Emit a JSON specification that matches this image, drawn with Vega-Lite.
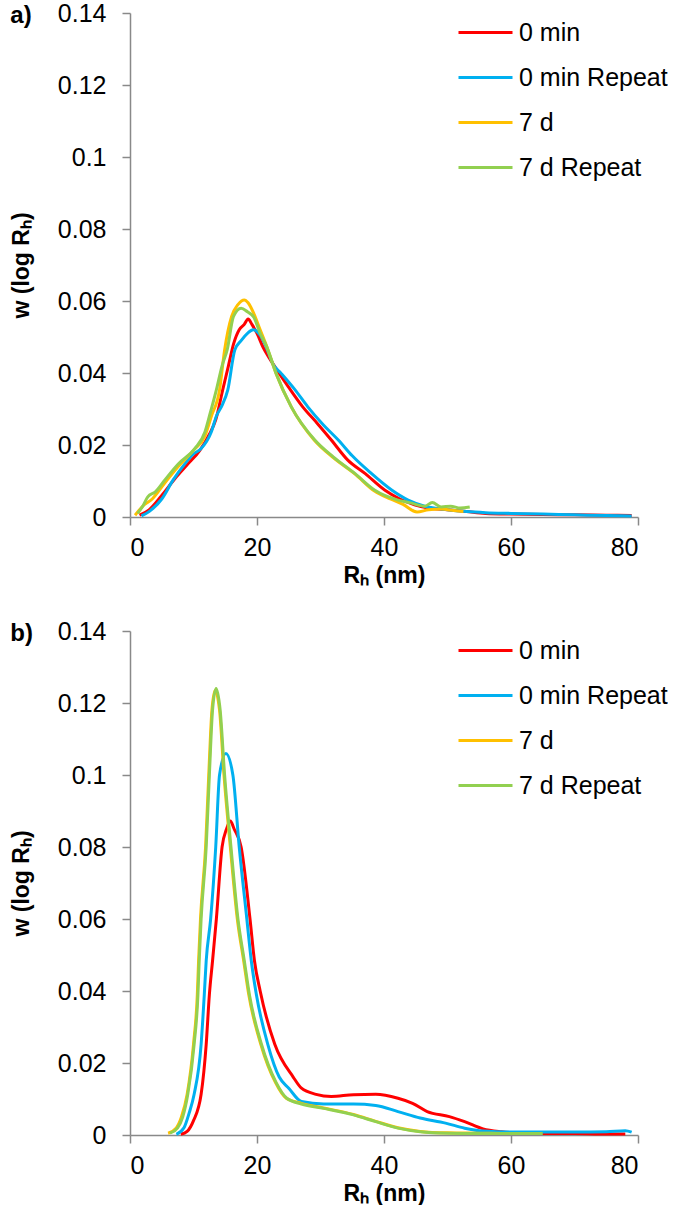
{
"$schema": "https://vega.github.io/schema/vega-lite/v6.json",
"background": "white",
"padding": {"left": 10, "top": 1, "right": 0, "bottom": 0},
"config": {
  "font": "Liberation Sans",
  "view": {"stroke": null},
  "axis": {"grid": false, "domainColor": "#898989", "tickColor": "#898989", "domainWidth": 1.5, "tickWidth": 1.5, "tickSize": 8, "labelFont": "Liberation Sans", "labelFontSize": 25, "labelColor": "#000000", "titleFont": "Liberation Sans", "titleFontSize": 23, "titleFontWeight": "bold", "titleColor": "#000000"},
  "axisX": {"labelPadding": 10, "titlePadding": 4},
  "axisY": {"labelPadding": 16, "titlePadding": 24},
  "legend": {"symbolType": "stroke", "symbolSize": 2916, "symbolStrokeWidth": 3, "labelFont": "Liberation Sans", "labelFontSize": 25, "labelColor": "#000000", "rowPadding": 3, "labelOffset": 5, "padding": 0, "labelLimit": 300},
  "title": {"font": "Liberation Sans", "fontSize": 24, "fontWeight": "bold", "color": "#000000", "anchor": "start", "frame": "bounds", "offset": -27}
},
"datasets": {
  "a": [
    {"series":"0 min","rh":1.5,"w":0.0005},{"series":"0 min","rh":3,"w":0.002},{"series":"0 min","rh":5,"w":0.006},{"series":"0 min","rh":7,"w":0.0105},{"series":"0 min","rh":9,"w":0.0145},{"series":"0 min","rh":11,"w":0.0185},{"series":"0 min","rh":12.5,"w":0.023},{"series":"0 min","rh":13.5,"w":0.027},{"series":"0 min","rh":14.6,"w":0.0353},{"series":"0 min","rh":15.5,"w":0.042},{"series":"0 min","rh":16.3,"w":0.048},{"series":"0 min","rh":17.2,"w":0.052},{"series":"0 min","rh":18.0,"w":0.0535},{"series":"0 min","rh":18.6,"w":0.055},{"series":"0 min","rh":19.2,"w":0.0535},{"series":"0 min","rh":20,"w":0.051},{"series":"0 min","rh":21,"w":0.047},{"series":"0 min","rh":22,"w":0.044},{"series":"0 min","rh":23.5,"w":0.0399},{"series":"0 min","rh":25,"w":0.036},{"series":"0 min","rh":27.2,"w":0.0306},{"series":"0 min","rh":29.5,"w":0.026},{"series":"0 min","rh":31.7,"w":0.0214},{"series":"0 min","rh":34.3,"w":0.0158},{"series":"0 min","rh":37,"w":0.0121},{"series":"0 min","rh":40.1,"w":0.0075},{"series":"0 min","rh":42.5,"w":0.005},{"series":"0 min","rh":44.8,"w":0.0034},{"series":"0 min","rh":47,"w":0.0025},{"series":"0 min","rh":50,"w":0.002},{"series":"0 min","rh":53,"w":0.0015},{"series":"0 min","rh":56,"w":0.001},{"series":"0 min","rh":60,"w":0.0008},{"series":"0 min","rh":65,"w":0.0007},{"series":"0 min","rh":70,"w":0.0006},{"series":"0 min","rh":75,"w":0.0005},{"series":"0 min","rh":79,"w":0.0004},
    {"series":"0 min Repeat","rh":1.8,"w":0.0003},{"series":"0 min Repeat","rh":3,"w":0.0015},{"series":"0 min Repeat","rh":5,"w":0.005},{"series":"0 min Repeat","rh":6.8,"w":0.0103},{"series":"0 min Repeat","rh":8.6,"w":0.0147},{"series":"0 min Repeat","rh":10,"w":0.0175},{"series":"0 min Repeat","rh":11.2,"w":0.019},{"series":"0 min Repeat","rh":12.8,"w":0.0236},{"series":"0 min Repeat","rh":13.6,"w":0.028},{"series":"0 min Repeat","rh":14.5,"w":0.031},{"series":"0 min Repeat","rh":15.4,"w":0.0353},{"series":"0 min Repeat","rh":16.5,"w":0.0464},{"series":"0 min Repeat","rh":17.5,"w":0.049},{"series":"0 min Repeat","rh":18.5,"w":0.051},{"series":"0 min Repeat","rh":19.4,"w":0.052},{"series":"0 min Repeat","rh":20.5,"w":0.0505},{"series":"0 min Repeat","rh":21.5,"w":0.047},{"series":"0 min Repeat","rh":22.5,"w":0.0425},{"series":"0 min Repeat","rh":23.8,"w":0.0399},{"series":"0 min Repeat","rh":26,"w":0.0353},{"series":"0 min Repeat","rh":28,"w":0.0306},{"series":"0 min Repeat","rh":30.5,"w":0.0255},{"series":"0 min Repeat","rh":32.8,"w":0.0214},{"series":"0 min Repeat","rh":35,"w":0.017},{"series":"0 min Repeat","rh":38,"w":0.0121},{"series":"0 min Repeat","rh":41.2,"w":0.0075},{"series":"0 min Repeat","rh":43.8,"w":0.0047},{"series":"0 min Repeat","rh":46.4,"w":0.003},{"series":"0 min Repeat","rh":50,"w":0.002},{"series":"0 min Repeat","rh":53,"w":0.0015},{"series":"0 min Repeat","rh":56,"w":0.0012},{"series":"0 min Repeat","rh":60,"w":0.001},{"series":"0 min Repeat","rh":65,"w":0.0008},{"series":"0 min Repeat","rh":70,"w":0.0006},{"series":"0 min Repeat","rh":75,"w":0.0004},{"series":"0 min Repeat","rh":79,"w":0.0003},
    {"series":"7 d","rh":0.8,"w":0.0005},{"series":"7 d","rh":2,"w":0.003},{"series":"7 d","rh":3.5,"w":0.005},{"series":"7 d","rh":5.5,"w":0.0095},{"series":"7 d","rh":7.6,"w":0.014},{"series":"7 d","rh":10,"w":0.0185},{"series":"7 d","rh":11.8,"w":0.0225},{"series":"7 d","rh":12.8,"w":0.0279},{"series":"7 d","rh":14.1,"w":0.0353},{"series":"7 d","rh":14.9,"w":0.0464},{"series":"7 d","rh":16.0,"w":0.0557},{"series":"7 d","rh":17,"w":0.059},{"series":"7 d","rh":18.0,"w":0.0603},{"series":"7 d","rh":18.6,"w":0.0595},{"series":"7 d","rh":19.5,"w":0.0565},{"series":"7 d","rh":20.5,"w":0.052},{"series":"7 d","rh":21.5,"w":0.0475},{"series":"7 d","rh":23,"w":0.0399},{"series":"7 d","rh":25.4,"w":0.0306},{"series":"7 d","rh":29,"w":0.0214},{"series":"7 d","rh":32,"w":0.0165},{"series":"7 d","rh":35.4,"w":0.012},{"series":"7 d","rh":38.5,"w":0.0072},{"series":"7 d","rh":41,"w":0.005},{"series":"7 d","rh":43,"w":0.0035},{"series":"7 d","rh":45.2,"w":0.0014},{"series":"7 d","rh":47,"w":0.002},{"series":"7 d","rh":49,"w":0.0022},{"series":"7 d","rh":51,"w":0.0018},{"series":"7 d","rh":52.5,"w":0.0015},
    {"series":"7 d Repeat","rh":1.2,"w":0.001},{"series":"7 d Repeat","rh":2,"w":0.003},{"series":"7 d Repeat","rh":2.8,"w":0.0056},{"series":"7 d Repeat","rh":4,"w":0.007},{"series":"7 d Repeat","rh":5.5,"w":0.0103},{"series":"7 d Repeat","rh":7.6,"w":0.0147},{"series":"7 d Repeat","rh":10.2,"w":0.019},{"series":"7 d Repeat","rh":11.8,"w":0.0236},{"series":"7 d Repeat","rh":12.5,"w":0.028},{"series":"7 d Repeat","rh":13.6,"w":0.0353},{"series":"7 d Repeat","rh":14.5,"w":0.042},{"series":"7 d Repeat","rh":15.3,"w":0.0464},{"series":"7 d Repeat","rh":16.3,"w":0.0557},{"series":"7 d Repeat","rh":17.5,"w":0.058},{"series":"7 d Repeat","rh":18.5,"w":0.057},{"series":"7 d Repeat","rh":19.5,"w":0.0555},{"series":"7 d Repeat","rh":20.5,"w":0.051},{"series":"7 d Repeat","rh":21.5,"w":0.0475},{"series":"7 d Repeat","rh":23,"w":0.0399},{"series":"7 d Repeat","rh":25.4,"w":0.0306},{"series":"7 d Repeat","rh":29.1,"w":0.0214},{"series":"7 d Repeat","rh":32,"w":0.0167},{"series":"7 d Repeat","rh":35.4,"w":0.0121},{"series":"7 d Repeat","rh":38.5,"w":0.0075},{"series":"7 d Repeat","rh":42.2,"w":0.0047},{"series":"7 d Repeat","rh":44,"w":0.004},{"series":"7 d Repeat","rh":46.4,"w":0.003},{"series":"7 d Repeat","rh":47.6,"w":0.004},{"series":"7 d Repeat","rh":49,"w":0.0028},{"series":"7 d Repeat","rh":50.5,"w":0.003},{"series":"7 d Repeat","rh":52,"w":0.0025},{"series":"7 d Repeat","rh":53.5,"w":0.0028}
  ],
  "b": [
    {"series":"0 min","rh":8.0,"w":0.0002},{"series":"0 min","rh":9,"w":0.001},{"series":"0 min","rh":10,"w":0.004},{"series":"0 min","rh":11.2,"w":0.0113},{"series":"0 min","rh":12.0,"w":0.0252},{"series":"0 min","rh":12.5,"w":0.039},{"series":"0 min","rh":13.0,"w":0.0484},{"series":"0 min","rh":13.6,"w":0.06},{"series":"0 min","rh":14.5,"w":0.08},{"series":"0 min","rh":15.2,"w":0.085},{"series":"0 min","rh":15.8,"w":0.0872},{"series":"0 min","rh":16.4,"w":0.085},{"series":"0 min","rh":17.5,"w":0.08},{"series":"0 min","rh":18.9,"w":0.06},{"series":"0 min","rh":19.6,"w":0.0484},{"series":"0 min","rh":20.5,"w":0.04},{"series":"0 min","rh":22.8,"w":0.0252},{"series":"0 min","rh":25.7,"w":0.0161},{"series":"0 min","rh":27,"w":0.013},{"series":"0 min","rh":29.3,"w":0.0113},{"series":"0 min","rh":31.7,"w":0.0107},{"series":"0 min","rh":35.2,"w":0.0112},{"series":"0 min","rh":38.7,"w":0.0113},{"series":"0 min","rh":42.2,"w":0.0102},{"series":"0 min","rh":44.5,"w":0.0088},{"series":"0 min","rh":46.8,"w":0.0065},{"series":"0 min","rh":50.3,"w":0.0051},{"series":"0 min","rh":52.7,"w":0.0037},{"series":"0 min","rh":55.6,"w":0.0017},{"series":"0 min","rh":58.5,"w":0.0009},{"series":"0 min","rh":62,"w":0.0005},{"series":"0 min","rh":66,"w":0.0004},{"series":"0 min","rh":70,"w":0.0004},{"series":"0 min","rh":74,"w":0.0003},{"series":"0 min","rh":78,"w":0.0003},
    {"series":"0 min Repeat","rh":7.3,"w":0.0002},{"series":"0 min Repeat","rh":8.5,"w":0.002},{"series":"0 min Repeat","rh":9.3,"w":0.006},{"series":"0 min Repeat","rh":10.1,"w":0.0113},{"series":"0 min Repeat","rh":11.2,"w":0.0252},{"series":"0 min Repeat","rh":11.7,"w":0.039},{"series":"0 min Repeat","rh":12.0,"w":0.0484},{"series":"0 min Repeat","rh":12.7,"w":0.06},{"series":"0 min Repeat","rh":13.5,"w":0.08},{"series":"0 min Repeat","rh":14.1,"w":0.1},{"series":"0 min Repeat","rh":15.1,"w":0.106},{"series":"0 min Repeat","rh":16.2,"w":0.1},{"series":"0 min Repeat","rh":17.2,"w":0.08},{"series":"0 min Repeat","rh":18.4,"w":0.06},{"series":"0 min Repeat","rh":19.1,"w":0.0484},{"series":"0 min Repeat","rh":19.9,"w":0.039},{"series":"0 min Repeat","rh":21.7,"w":0.0252},{"series":"0 min Repeat","rh":23.5,"w":0.0161},{"series":"0 min Repeat","rh":25,"w":0.013},{"series":"0 min Repeat","rh":27,"w":0.0093},{"series":"0 min Repeat","rh":30.5,"w":0.0086},{"series":"0 min Repeat","rh":35.2,"w":0.0086},{"series":"0 min Repeat","rh":38.7,"w":0.0082},{"series":"0 min Repeat","rh":42.2,"w":0.0065},{"series":"0 min Repeat","rh":45.7,"w":0.0047},{"series":"0 min Repeat","rh":49.7,"w":0.0033},{"series":"0 min Repeat","rh":52.7,"w":0.0019},{"series":"0 min Repeat","rh":55.6,"w":0.0011},{"series":"0 min Repeat","rh":60,"w":0.0008},{"series":"0 min Repeat","rh":65,"w":0.0008},{"series":"0 min Repeat","rh":70,"w":0.0008},{"series":"0 min Repeat","rh":75,"w":0.0009},{"series":"0 min Repeat","rh":78,"w":0.0012},{"series":"0 min Repeat","rh":79,"w":0.0008},
    {"series":"7 d","rh":6.0,"w":0.0005},{"series":"7 d","rh":7.3,"w":0.002},{"series":"7 d","rh":8.1,"w":0.005},{"series":"7 d","rh":9.0,"w":0.0113},{"series":"7 d","rh":10.0,"w":0.0252},{"series":"7 d","rh":10.6,"w":0.039},{"series":"7 d","rh":10.8,"w":0.0484},{"series":"7 d","rh":11.1,"w":0.06},{"series":"7 d","rh":11.9,"w":0.08},{"series":"7 d","rh":12.4,"w":0.1},{"series":"7 d","rh":12.9,"w":0.118},{"series":"7 d","rh":13.4,"w":0.1235},{"series":"7 d","rh":14.1,"w":0.118},{"series":"7 d","rh":14.8,"w":0.1},{"series":"7 d","rh":15.8,"w":0.08},{"series":"7 d","rh":16.9,"w":0.06},{"series":"7 d","rh":17.9,"w":0.0484},{"series":"7 d","rh":18.7,"w":0.039},{"series":"7 d","rh":20.6,"w":0.0252},{"series":"7 d","rh":22.9,"w":0.0146},{"series":"7 d","rh":24.6,"w":0.0102},{"series":"7 d","rh":27,"w":0.0088},{"series":"7 d","rh":30.5,"w":0.0075},{"series":"7 d","rh":35.2,"w":0.0057},{"series":"7 d","rh":38.7,"w":0.0038},{"series":"7 d","rh":42.2,"w":0.002},{"series":"7 d","rh":45.7,"w":0.001},{"series":"7 d","rh":50,"w":0.0006},{"series":"7 d","rh":55,"w":0.0005},{"series":"7 d","rh":60,"w":0.0004},{"series":"7 d","rh":63,"w":0.0004},
    {"series":"7 d Repeat","rh":6.3,"w":0.0005},{"series":"7 d Repeat","rh":7.5,"w":0.002},{"series":"7 d Repeat","rh":8.3,"w":0.005},{"series":"7 d Repeat","rh":9.1,"w":0.0113},{"series":"7 d Repeat","rh":10.1,"w":0.0252},{"series":"7 d Repeat","rh":10.7,"w":0.039},{"series":"7 d Repeat","rh":10.9,"w":0.0484},{"series":"7 d Repeat","rh":11.2,"w":0.06},{"series":"7 d Repeat","rh":12.0,"w":0.08},{"series":"7 d Repeat","rh":12.5,"w":0.1},{"series":"7 d Repeat","rh":13.0,"w":0.118},{"series":"7 d Repeat","rh":13.56,"w":0.124},{"series":"7 d Repeat","rh":14.2,"w":0.118},{"series":"7 d Repeat","rh":14.9,"w":0.1},{"series":"7 d Repeat","rh":15.9,"w":0.08},{"series":"7 d Repeat","rh":17.0,"w":0.06},{"series":"7 d Repeat","rh":18.0,"w":0.0484},{"series":"7 d Repeat","rh":18.8,"w":0.039},{"series":"7 d Repeat","rh":20.7,"w":0.0252},{"series":"7 d Repeat","rh":23.0,"w":0.0146},{"series":"7 d Repeat","rh":24.7,"w":0.0102},{"series":"7 d Repeat","rh":27,"w":0.0086},{"series":"7 d Repeat","rh":30.5,"w":0.0074},{"series":"7 d Repeat","rh":35.2,"w":0.0056},{"series":"7 d Repeat","rh":38.7,"w":0.0037},{"series":"7 d Repeat","rh":42.2,"w":0.0019},{"series":"7 d Repeat","rh":45.7,"w":0.0009},{"series":"7 d Repeat","rh":50,"w":0.0005},{"series":"7 d Repeat","rh":55,"w":0.0004},{"series":"7 d Repeat","rh":60,"w":0.0004},{"series":"7 d Repeat","rh":65,"w":0.0004}
  ]
},
"resolve": {"legend": {"color": "independent"}},
"spacing": 32,
"vconcat": [
  {
    "title": {"text": "a)"},
    "width": 508, "height": 504,
    "data": {"name": "a"},
    "mark": {"type": "line", "strokeWidth": 3, "strokeJoin": "round", "interpolate": "monotone"},
    "encoding": {
      "x": {"field": "rh", "type": "quantitative", "scale": {"domain": [0, 80], "nice": false}, "axis": {"values": [0, 20, 40, 60, 80], "title": "Rₕ (nm)"}},
      "y": {"field": "w", "type": "quantitative", "scale": {"domain": [0, 0.14], "nice": false}, "axis": {"values": [0, 0.02, 0.04, 0.06, 0.08, 0.1, 0.12, 0.14], "format": "~g", "title": "w (log Rₕ)"}},
      "color": {"field": "series", "type": "nominal", "scale": {"domain": ["0 min", "0 min Repeat", "7 d", "7 d Repeat"], "range": ["#FF0000", "#00B0F0", "#FFC000", "#92D050"]}, "legend": {"orient": "none", "legendX": 327, "legendY": -9, "title": null}}
    }
  },
  {
    "title": {"text": "b)"},
    "width": 508, "height": 504,
    "data": {"name": "b"},
    "mark": {"type": "line", "strokeWidth": 3, "strokeJoin": "round", "interpolate": "monotone"},
    "encoding": {
      "x": {"field": "rh", "type": "quantitative", "scale": {"domain": [0, 80], "nice": false}, "axis": {"values": [0, 20, 40, 60, 80], "title": "Rₕ (nm)"}},
      "y": {"field": "w", "type": "quantitative", "scale": {"domain": [0, 0.14], "nice": false}, "axis": {"values": [0, 0.02, 0.04, 0.06, 0.08, 0.1, 0.12, 0.14], "format": "~g", "title": "w (log Rₕ)"}},
      "color": {"field": "series", "type": "nominal", "scale": {"domain": ["0 min", "0 min Repeat", "7 d", "7 d Repeat"], "range": ["#FF0000", "#00B0F0", "#FFC000", "#92D050"]}, "legend": {"orient": "none", "legendX": 327, "legendY": -9, "title": null}}
    }
  }
]
}
